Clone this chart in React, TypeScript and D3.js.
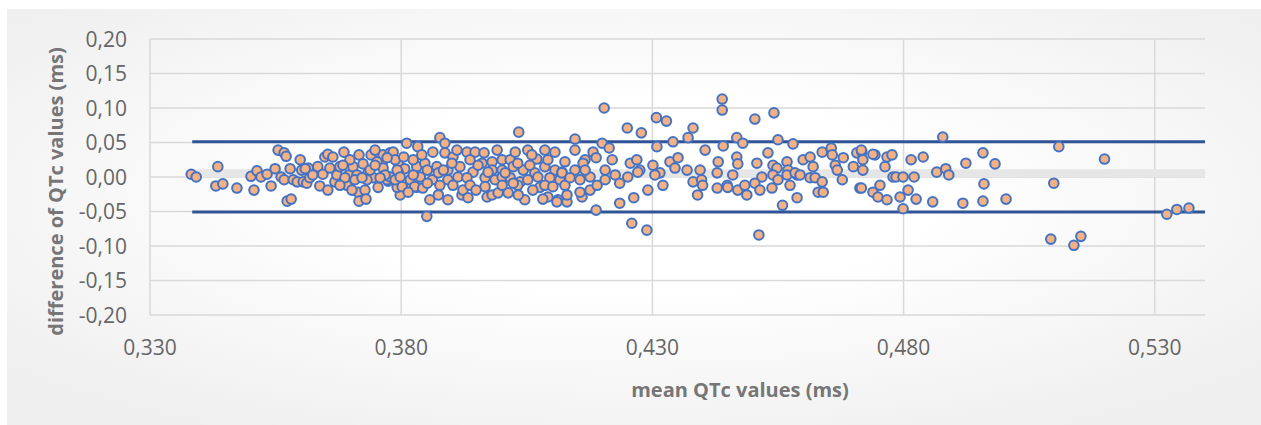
import * as React from "react";
import * as d3 from "d3";

// axis ticks
const xTicks = [0.33, 0.38, 0.43, 0.48, 0.53];
const yTicks = [-0.2, -0.15, -0.1, -0.05, 0, 0.05, 0.1, 0.15, 0.2];

// mean difference and limits of agreement
const meanDiff = 0.0055;
const upperLimit = 0.0512;
const lowerLimit = -0.0508;
const limitSpan = [0.3384, 0.54];

// [mean QTc, difference of QTc]
const measurements: [number, number][] = [
  [0.3382, 0.004], [0.3392, 0.0], [0.3435, 0.015], [0.3431, -0.013], [0.3445, -0.01], [0.3473, -0.016],
  [0.3501, 0.001], [0.3507, -0.019], [0.3513, 0.009], [0.3521, 0.0], [0.3533, 0.004], [0.3541, -0.013],
  [0.3549, 0.012], [0.3555, 0.039], [0.3567, 0.035], [0.3571, 0.03], [0.3573, -0.035], [0.3581, -0.032],
  [0.3561, 0.0], [0.3567, -0.004], [0.3579, 0.012], [0.3585, -0.004], [0.3593, -0.007], [0.3602, 0.01],
  [0.3605, -0.007], [0.3612, -0.009], [0.3615, 0.013], [0.3618, -0.001], [0.3609, 0.012], [0.3634, 0.015],
  [0.3638, -0.013], [0.3648, 0.029], [0.3654, 0.033], [0.3654, -0.019], [0.3644, 0.004], [0.3658, 0.013],
  [0.3664, 0.029], [0.3668, -0.007], [0.3672, 0.003], [0.3678, 0.015], [0.3686, 0.036], [0.3692, -0.012],
  [0.3696, 0.003], [0.3704, 0.015], [0.3712, 0.003], [0.3716, 0.032], [0.3714, -0.022], [0.3716, -0.035],
  [0.3728, -0.019], [0.373, -0.032], [0.3724, 0.019], [0.3734, 0.006], [0.374, 0.032], [0.3744, -0.001],
  [0.3754, -0.015], [0.3762, 0.02], [0.3764, 0.032], [0.3774, -0.006], [0.3778, 0.035], [0.3784, 0.036],
  [0.3794, 0.02], [0.3798, -0.026], [0.3807, 0.012], [0.3811, 0.049], [0.3821, -0.013], [0.3831, -0.015],
  [0.3833, 0.044], [0.3738, 0.01], [0.3752, 0.022], [0.3792, -0.015], [0.3794, 0.007], [0.3772, -0.004],
  [0.3732, -0.004], [0.3778, 0.0], [0.3792, 0.01], [0.3764, 0.013], [0.3698, 0.025], [0.3684, 0.017],
  [0.3788, 0.025], [0.3768, 0.003], [0.3748, 0.017], [0.3708, -0.004], [0.3722, -0.001],
  [0.3599, 0.025], [0.3624, 0.003], [0.3688, -0.001], [0.3702, -0.019], [0.3748, 0.039], [0.3772, 0.028],
  [0.3758, -0.001], [0.3788, -0.004], [0.3678, -0.012],

  [0.3877, 0.057], [0.3887, 0.049], [0.3887, 0.035], [0.3903, 0.029], [0.3931, 0.036], [0.3947, 0.036],
  [0.3965, 0.035], [0.3981, 0.022], [0.4001, 0.025], [0.4017, 0.025], [0.4034, 0.065], [0.4052, 0.039],
  [0.407, 0.026], [0.4106, 0.036], [0.3831, 0.015], [0.3847, 0.02], [0.3871, 0.015], [0.3893, 0.01],
  [0.3917, 0.015], [0.3943, 0.007], [0.3961, 0.02], [0.3981, 0.01], [0.4001, 0.01], [0.4023, 0.015],
  [0.4043, 0.01], [0.4066, 0.006], [0.4086, 0.015], [0.4106, 0.01], [0.412, 0.007], [0.3798, 0.0],
  [0.3818, -0.004], [0.3838, 0.0], [0.3862, -0.004], [0.3874, 0.006], [0.3893, -0.004], [0.3913, 0.0],
  [0.3931, -0.001], [0.3967, -0.001], [0.3987, -0.004], [0.4001, 0.0], [0.4017, -0.001], [0.4037, -0.007],
  [0.4052, -0.004], [0.4072, 0.0], [0.4096, -0.001], [0.4116, -0.004], [0.3802, -0.014], [0.3827, -0.014],
  [0.3843, -0.016], [0.3893, -0.033], [0.3857, -0.033], [0.3921, -0.026], [0.3923, -0.019], [0.3967, -0.014],
  [0.3971, -0.029], [0.3981, -0.026], [0.3993, -0.023], [0.4013, -0.023], [0.4032, -0.012], [0.4046, -0.033],
  [0.4076, -0.015], [0.4092, -0.029], [0.4112, -0.033], [0.3851, -0.057], [0.4001, -0.012], [0.411, -0.036],
  [0.413, -0.036], [0.416, -0.029], [0.4188, -0.048], [0.3824, 0.025], [0.3852, 0.01], [0.3901, 0.02],
  [0.3953, 0.017], [0.4032, 0.02], [0.4056, 0.017], [0.4092, 0.025], [0.3937, -0.012], [0.3877, -0.012],
  [0.4007, 0.006], [0.4086, -0.012],
  [0.3805, 0.029], [0.3841, 0.032], [0.3863, 0.036], [0.3911, 0.039], [0.3937, 0.025], [0.3991, 0.039],
  [0.4027, 0.036], [0.406, 0.032], [0.4086, 0.039], [0.3824, 0.003], [0.3852, -0.009], [0.3884, 0.01],
  [0.3903, -0.012], [0.3949, -0.019], [0.3973, 0.007], [0.4023, -0.009], [0.4062, -0.019], [0.4102, -0.014],
  [0.4126, -0.012], [0.4146, 0.01], [0.4166, 0.025], [0.4176, -0.019], [0.3814, -0.022], [0.3874, -0.026],
  [0.3933, -0.03], [0.4033, -0.026], [0.4082, -0.032],

  [0.4204, 0.1], [0.425, 0.071], [0.4278, 0.064], [0.4308, 0.086], [0.4328, 0.081], [0.4381, 0.071],
  [0.4371, 0.057], [0.4341, 0.051], [0.4309, 0.044], [0.42, 0.049], [0.4214, 0.042], [0.4146, 0.055],
  [0.4146, 0.039], [0.4405, 0.039], [0.4441, 0.045], [0.4439, 0.113], [0.4439, 0.097], [0.4182, 0.036],
  [0.4188, 0.028], [0.4126, 0.022], [0.4162, 0.02], [0.4206, 0.01], [0.4226, 0.003], [0.4256, 0.02],
  [0.4269, 0.025], [0.4275, 0.01], [0.4301, 0.017], [0.4315, 0.006], [0.4335, 0.022], [0.4351, 0.028],
  [0.4369, 0.01], [0.4395, 0.01], [0.4431, 0.022], [0.4429, 0.006], [0.4449, -0.012], [0.412, 0.006],
  [0.4136, -0.001], [0.4156, -0.004], [0.4176, 0.0], [0.419, -0.012], [0.4206, -0.004], [0.4235, -0.009],
  [0.4251, 0.0], [0.4271, 0.007], [0.4305, 0.003], [0.4321, -0.012], [0.4381, -0.007], [0.4398, -0.004],
  [0.44, -0.012], [0.439, -0.026], [0.4429, -0.016], [0.4291, -0.019], [0.4156, -0.022], [0.413, -0.026],
  [0.4235, -0.038], [0.4263, -0.03], [0.4259, -0.067], [0.4289, -0.077], [0.4345, 0.013], [0.422, 0.025],
  [0.4166, 0.01],

  [0.4504, 0.084], [0.4542, 0.093], [0.4468, 0.057], [0.448, 0.049], [0.455, 0.054], [0.458, 0.048],
  [0.453, 0.035], [0.4468, 0.029], [0.447, 0.019], [0.4508, 0.02], [0.454, 0.017], [0.4548, 0.013],
  [0.4568, 0.022], [0.457, 0.01], [0.4588, 0.003], [0.46, 0.025], [0.4614, 0.029], [0.462, 0.015],
  [0.4638, 0.036], [0.4656, 0.042], [0.4658, 0.032], [0.4664, 0.017], [0.4668, 0.01], [0.468, 0.028],
  [0.47, 0.015], [0.4707, 0.035], [0.4717, 0.036], [0.4719, 0.025], [0.4719, 0.01], [0.4743, 0.032],
  [0.4763, 0.015], [0.4767, 0.029], [0.4777, 0.032], [0.446, 0.003], [0.4518, 0.0], [0.454, 0.003],
  [0.4568, 0.003], [0.4584, 0.006], [0.4594, 0.003], [0.4614, -0.001], [0.4624, -0.001], [0.455, -0.004],
  [0.4574, -0.012], [0.445, -0.015], [0.447, -0.019], [0.4488, -0.026], [0.4484, -0.012], [0.4504, -0.009],
  [0.4514, -0.019], [0.4538, -0.016], [0.4638, -0.007], [0.463, -0.022], [0.464, -0.022], [0.4678, -0.004],
  [0.4713, -0.016], [0.4739, -0.022], [0.4753, -0.012], [0.4749, -0.029], [0.4767, -0.033], [0.4779, 0.0],
  [0.4559, -0.041], [0.4588, -0.03], [0.4512, -0.084],

  [0.4716, 0.039], [0.4739, 0.033], [0.4716, -0.016], [0.4785, 0.0], [0.4799, 0.0], [0.4821, 0.0],
  [0.4815, 0.025], [0.4839, 0.029], [0.4809, -0.019], [0.4793, -0.029], [0.4825, -0.032], [0.4799, -0.046],
  [0.4858, -0.036], [0.4866, 0.007], [0.4884, 0.012], [0.489, 0.003], [0.4878, 0.058], [0.4924, 0.02],
  [0.4918, -0.038], [0.4958, 0.035], [0.4982, 0.019], [0.496, -0.01], [0.4958, -0.035], [0.5004, -0.032],
  [0.5109, 0.044], [0.5099, -0.009], [0.52, 0.026], [0.5093, -0.09], [0.5139, -0.099], [0.5153, -0.086],
  [0.5324, -0.054], [0.5344, -0.047], [0.5368, -0.045],
];

const fmt = d3.formatLocale({ decimal: ",", thousands: ".", grouping: [3], currency: ["", ""], minus: "-" });
const fmtY = fmt.format(".2f");
const fmtX = fmt.format(".3f");

function drawChart(node: SVGSVGElement) {
  const width = 1261;
  const height = 425;
  const plot = { left: 150, right: 1205, top: 39, bottom: 315 };
  const font = "'Open Sans', sans-serif";

  const svg = d3.select(node);
  svg.selectAll("*").remove();

  const defs = svg.append("defs");
  const grad = defs.append("radialGradient")
    .attr("id", "bg")
    .attr("cx", "50%").attr("cy", "45%").attr("r", "65%");
  grad.append("stop").attr("offset", "35%").attr("stop-color", "#ffffff");
  grad.append("stop").attr("offset", "100%").attr("stop-color", "#efefef");

  svg.append("rect").attr("width", width).attr("height", height).attr("fill", "#ffffff");
  svg.append("rect")
    .attr("x", 7).attr("y", 9)
    .attr("width", width - 7).attr("height", height - 9)
    .attr("fill", "url(#bg)");

  const x = d3.scaleLinear().domain([0.33, 0.54]).range([plot.left, plot.right]);
  const y = d3.scaleLinear().domain([-0.2, 0.2]).range([plot.bottom, plot.top]);

  // gridlines
  svg.append("g").selectAll("line").data(yTicks).enter()
    .append("line")
    .attr("x1", plot.left).attr("x2", plot.right)
    .attr("y1", d => y(d)).attr("y2", d => y(d))
    .style("stroke", "#d9d9d9").style("stroke-width", 1.5);
  svg.append("g").selectAll("line").data(xTicks).enter()
    .append("line")
    .attr("x1", d => x(d)).attr("x2", d => x(d))
    .attr("y1", plot.top).attr("y2", plot.bottom)
    .style("stroke", "#d9d9d9").style("stroke-width", 1.5);

  // mean and limits of agreement
  const hline = (v: number, color: string, w: number) =>
    svg.append("line")
      .attr("x1", x(limitSpan[0])).attr("x2", x(limitSpan[1]))
      .attr("y1", y(v)).attr("y2", y(v))
      .style("stroke", color).style("stroke-width", w);
  hline(meanDiff, "#e6e6e6", 8);
  hline(upperLimit, "#2f5597", 3);
  hline(lowerLimit, "#2f5597", 3);

  // points
  svg.append("g").selectAll("circle").data(measurements).enter()
    .append("circle")
    .attr("cx", d => x(d[0]))
    .attr("cy", d => y(d[1]))
    .attr("r", 4.8)
    .style("fill", "#f4b183")
    .style("stroke", "#4472c4")
    .style("stroke-width", 2);

  // tick labels
  svg.append("g").selectAll("text").data(yTicks).enter()
    .append("text")
    .attr("x", 127).attr("y", d => y(d) + 7.5)
    .attr("text-anchor", "end")
    .style("font-family", font).style("font-size", "21px").style("fill", "#666666")
    .text(d => fmtY(d));
  svg.append("g").selectAll("text").data(xTicks).enter()
    .append("text")
    .attr("x", d => x(d)).attr("y", 355)
    .attr("text-anchor", "middle")
    .style("font-family", font).style("font-size", "21px").style("fill", "#666666")
    .text(d => fmtX(d));

  // axis titles
  svg.append("text")
    .attr("x", 740).attr("y", 397)
    .attr("text-anchor", "middle")
    .style("font-family", font).style("font-size", "20px").style("font-weight", "bold").style("fill", "#767676")
    .text("mean QTc values (ms)");
  svg.append("text")
    .attr("transform", "translate(63,191.5) rotate(-90)")
    .attr("text-anchor", "middle")
    .style("font-family", font).style("font-size", "20px").style("font-weight", "bold").style("fill", "#767676")
    .text("difference of QTc values (ms)");
}

export default function App() {
  const ref = React.useRef<SVGSVGElement>(null);
  React.useEffect(() => {
    if (ref.current) drawChart(ref.current);
  }, []);
  return (
    <svg
      ref={ref}
      width={1261}
      height={425}
      style={{ position: "absolute", left: 0, top: 0, display: "block" }}
    />
  );
}
